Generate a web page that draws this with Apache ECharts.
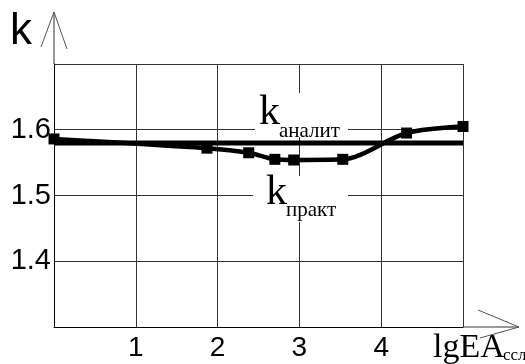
<!DOCTYPE html>
<html>
<head>
<meta charset="utf-8">
<script src="https://cdn.jsdelivr.net/npm/echarts@6/dist/echarts.min.js"></script>
<style>
  html, body { margin: 0; padding: 0; background: #fff; }
  #chart { width: 525px; height: 364px; }
</style>
</head>
<body>
<div id="chart"></div>
<script>
// lg EA values along the horizontal axis and the measured coefficient k
const lgEA = [0, 1.87, 2.38, 2.70, 2.93, 3.53, 4.31, 5.0];
const kPrakt = [1.586, 1.572, 1.565, 1.555, 1.554, 1.555, 1.595, 1.605];
// analytical coefficient, constant over the whole range
const kAnalitValue = 1.58;
const kAnalitRange = [0, 5];
// tick labels that are printed on each axis
const xTickLabels = [1, 2, 3, 4];
const yTickLabels = [1.4, 1.5, 1.6];

const serif = '"Liberation Serif", "Times New Roman", serif';
const sans = '"Liberation Sans", Arial, sans-serif';

const chart = echarts.init(document.getElementById('chart'), null, { renderer: 'canvas' });

chart.setOption({
  animation: false,
  backgroundColor: '#fff',
  grid: { left: 54, right: 62, top: 64, bottom: 37 },
  xAxis: {
    type: 'value', min: 0, max: 5, interval: 1,
    axisLine: { show: true, lineStyle: { color: '#000', width: 1 } },
    axisTick: { show: false },
    splitLine: { show: true, lineStyle: { color: '#333', width: 1 } },
    axisLabel: {
      margin: 7,
      color: '#000',
      fontFamily: sans,
      fontSize: 28,
      formatter: v => (xTickLabels.includes(Math.round(v * 10) / 10) ? String(v) : '')
    }
  },
  yAxis: {
    type: 'value', min: 1.3, max: 1.7, interval: 0.1,
    axisLine: { show: true, lineStyle: { color: '#000', width: 1 } },
    axisTick: { show: false },
    splitLine: { show: true, lineStyle: { color: '#333', width: 1 } },
    axisLabel: {
      margin: 3,
      color: '#000',
      fontFamily: sans,
      fontSize: 29,
      formatter: v => {
        const r = Math.round(v * 10) / 10;
        return yTickLabels.includes(r) ? r.toFixed(1) : '';
      }
    }
  },
  series: [
    {
      name: 'k аналит',
      type: 'line',
      data: kAnalitRange.map(x => [x, kAnalitValue]),
      symbol: 'none',
      lineStyle: { color: '#000', width: 5 },
      z: 3
    },
    {
      name: 'k практ',
      type: 'line',
      data: lgEA.map((x, i) => [x, kPrakt[i]]),
      smooth: 0.3,
      symbol: 'rect',
      symbolSize: 11,
      itemStyle: { color: '#000' },
      lineStyle: { color: '#000', width: 4.5 },
      z: 4
    }
  ],
  graphic: [
    // axis extensions with open arrowheads
    { type: 'line', shape: { x1: 54, y1: 64, x2: 54, y2: 12 }, style: { stroke: '#333', lineWidth: 1 } },
    { type: 'polyline', shape: { points: [[41, 47], [54, 12], [67, 49]] }, style: { stroke: '#555', lineWidth: 1, fill: null } },
    { type: 'line', shape: { x1: 463, y1: 327, x2: 519, y2: 327 }, style: { stroke: '#333', lineWidth: 1 } },
    { type: 'polyline', shape: { points: [[478, 310], [519, 327], [480, 338]] }, style: { stroke: '#555', lineWidth: 1, fill: null } },

    // axis titles
    { type: 'text', x: 10, y: 32, style: { text: 'k', font: '44px ' + sans, fill: '#000', textVerticalAlign: 'middle' } },
    { type: 'text', x: 433, y: 348, style: { text: 'lgEA', font: '34px ' + serif, fill: '#000', textVerticalAlign: 'middle' } },
    { type: 'text', x: 503, y: 356, style: { text: 'ссл', font: '17px ' + serif, fill: '#000', textVerticalAlign: 'middle' } },

    // curve captions on white plates
    { type: 'rect', shape: { x: 255, y: 93, width: 93, height: 44 }, style: { fill: '#fff' }, z: 10 },
    { type: 'text', x: 259, y: 113, z: 11, style: { text: 'k', font: '42px ' + serif, fill: '#000', textVerticalAlign: 'middle' } },
    { type: 'text', x: 279, y: 131, z: 11, style: { text: 'аналит', font: '21px ' + serif, fill: '#000', textVerticalAlign: 'middle' } },
    { type: 'rect', shape: { x: 253, y: 176, width: 95, height: 46 }, style: { fill: '#fff' }, z: 10 },
    { type: 'text', x: 266, y: 193, z: 11, style: { text: 'k', font: '42px ' + serif, fill: '#000', textVerticalAlign: 'middle' } },
    { type: 'text', x: 286, y: 210, z: 11, style: { text: 'практ', font: '21px ' + serif, fill: '#000', textVerticalAlign: 'middle' } }
  ]
});
</script>
</body>
</html>
